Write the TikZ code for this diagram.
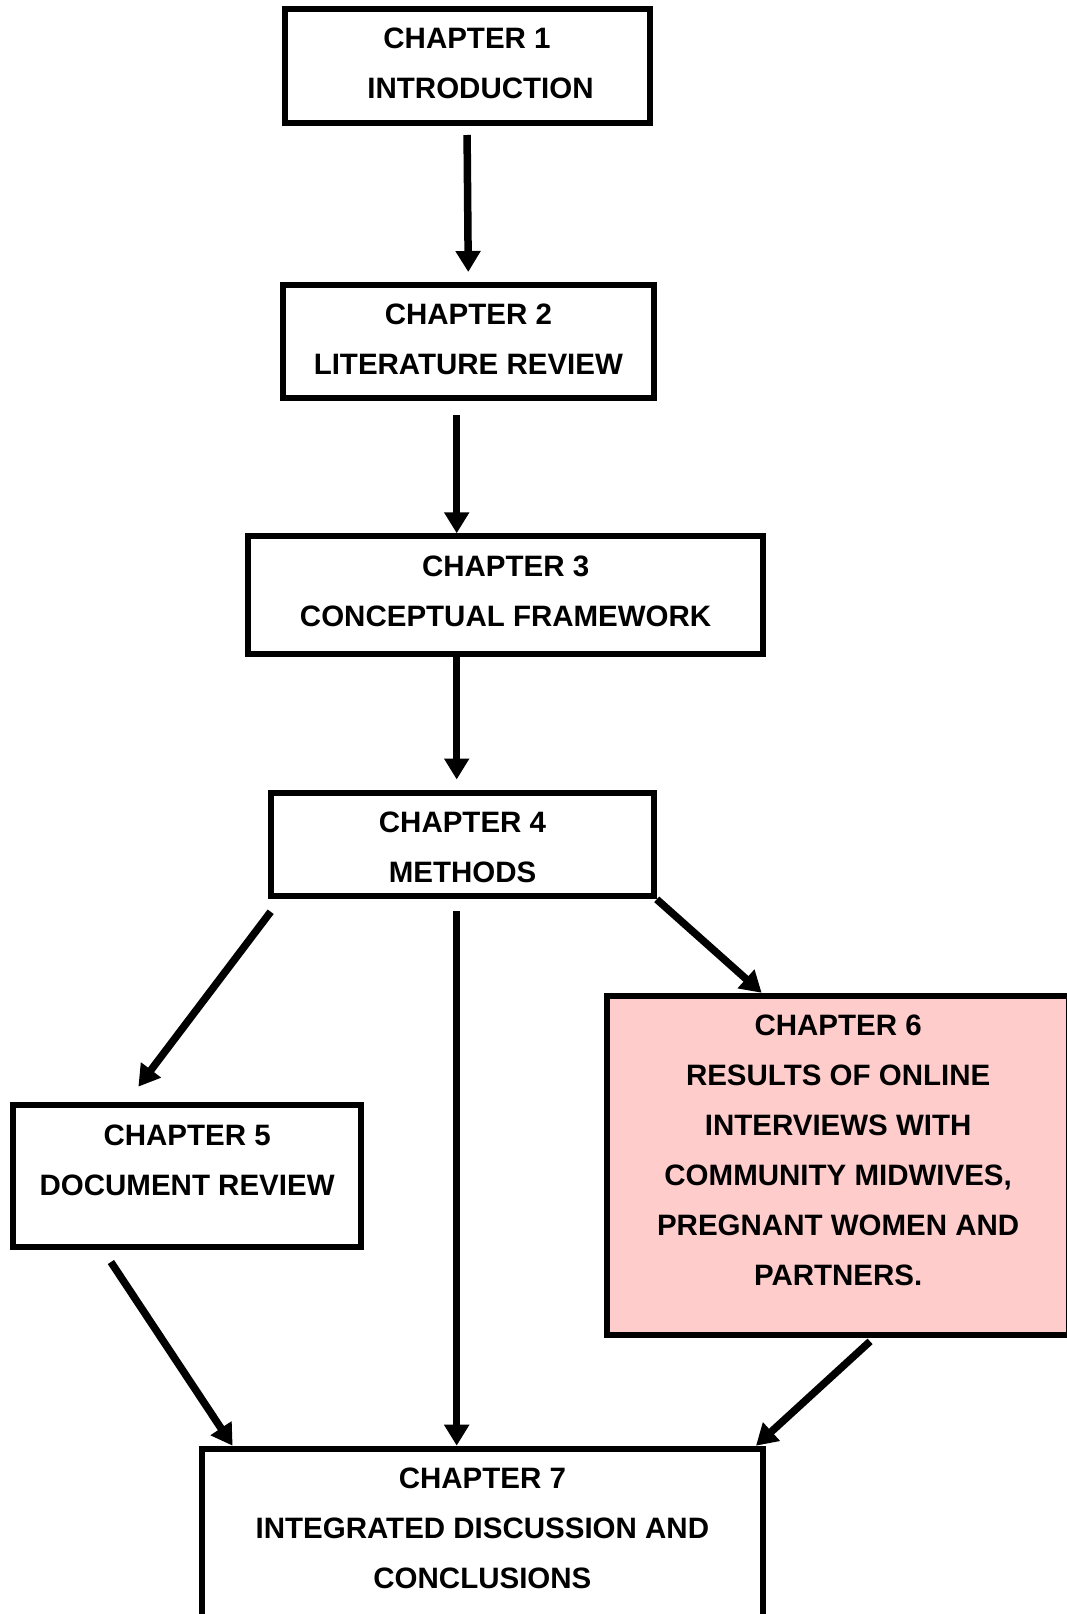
\documentclass[tikz,border=0pt]{standalone}
\usepackage{fontspec}
\setmainfont{Liberation Sans}
\usepackage{xcolor}
\usetikzlibrary{calc, positioning, arrows.meta}
\definecolor{pinkbox}{HTML}{FFCCCC}
\tikzset{
	chapbox/.style={draw, line width=6pt, inner sep=0pt},
	chaptext/.style={inner sep=0pt, align=center, font=\fontsize{29.5}{50}\selectfont\bfseries},
	arr/.style={-{Triangle[length=21pt,width=24pt]}, line width=7.5pt},
}

\begin{document}
\begin{tikzpicture}[x=1pt, y=-1pt]
	\useasboundingbox (0,0) rectangle (1067,1614);

		% nodes - chapter boxes %
		\node[chapbox, minimum width=365pt, minimum height=113.5pt] (ch1) at (467,65.75) {};
		\node[chapbox, minimum width=370.7pt, minimum height=113pt] (ch2) at (468.35,341.5) {};
		\node[chapbox, minimum width=515.3pt, minimum height=118pt] (ch3) at (505.65,595.3) {};
		\node[chapbox, minimum width=382.4pt, minimum height=103.8pt] (ch4) at (462.5,844.4) {};
		\node[chapbox, minimum width=348.3pt, minimum height=141.7pt] (ch5) at (187.15,1176.15) {};
		\node[chapbox, fill=pinkbox, minimum width=461.7pt, minimum height=339.2pt] (ch6) at (838.15,1165.4) {};
		\node[chapbox, minimum width=561.8pt, minimum height=191.3pt] (ch7) at (482.4,1544.35) {};
		\coordinate (spine) at (456.7,0);

		% nodes - texts %
		\node[chaptext, below=22pt of ch1.north] (t1) {CHAPTER 1\\\hspace*{27pt}INTRODUCTION};
		\node[chaptext, below=22pt of ch2.north] (t2) {CHAPTER 2\\LITERATURE REVIEW};
		\node[chaptext, below=22pt of ch3.north] (t3) {CHAPTER 3\\CONCEPTUAL FRAMEWORK};
		\node[chaptext, below=22pt of ch4.north] (t4) {CHAPTER 4\\METHODS};
		\node[chaptext, below=22pt of ch5.north] (t5) {CHAPTER 5\\DOCUMENT REVIEW};
		\node[chaptext, below=22pt of ch6.north] (t6) {CHAPTER 6\\RESULTS OF ONLINE\\INTERVIEWS WITH\\COMMUNITY MIDWIVES,\\PREGNANT WOMEN AND\\PARTNERS.};
		\node[chaptext, below=22pt of ch7.north] (t7) {CHAPTER 7\\INTEGRATED DISCUSSION AND\\CONCLUSIONS};

		% edges %
		\draw[arr, shorten <=9.5pt, shorten >=10pt] (ch1.south) -- (ch2.north);
		\draw[arr, shorten <=14pt] (ch2.south -| spine) -- (ch3.north -| spine);
		\draw[arr, shorten >=10pt] (ch3.south -| spine) -- (ch4.north -| spine);
		\draw[arr, shorten <=12pt] (ch4.south -| spine) -- (ch7.north -| spine);
		\draw[arr, shorten <=15.6pt, shorten >=19.6pt] ($(ch4.south west)+(11.8,0)$) -- ($(ch5.north)+(-60.6,0)$);
		\draw[arr] (ch4.south east) -- ($(ch6.north)+(-76.5,0)$);
		\draw[arr, shorten <=14.4pt] ($(ch5.south)+(-84.2,0)$) -- ($(ch7.north)+(-249.8,0)$);
		\draw[arr, shorten <=5pt] ($(ch6.south)+(35.6,0)$) -- ($(ch7.north)+(273.6,0)$);

\end{tikzpicture}
\end{document}
